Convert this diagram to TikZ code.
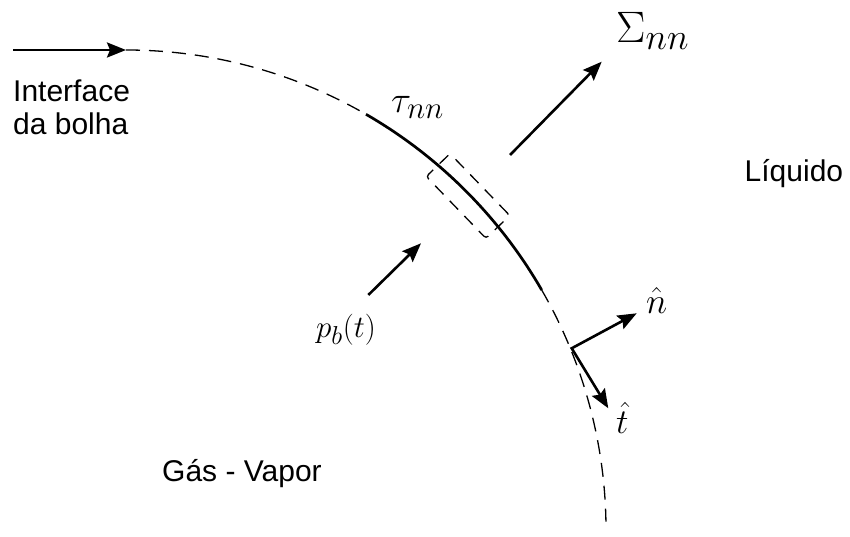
\documentclass[tikz,border=0pt]{standalone}
\usepackage{graphicx}
\usepackage{fontspec}
\newfontfamily\arialf{Liberation Sans}
\usetikzlibrary{arrows.meta}
\begin{document}
\begin{tikzpicture}[x=1pt,y=1pt,
  txt/.style={inner sep=0pt, anchor=base west, font=\arialf\fontsize{30}{33}\selectfont},
  mth/.style={inner sep=0pt, anchor=base west, font=\fontsize{24.88}{30}\selectfont},
  arr/.style={line width=2.6pt, -{Stealth[length=19pt,width=15pt,inset=3pt]}},
  dsh/.style={line width=1.3pt, dash pattern=on 14pt off 9pt},
  solidarc/.style={line width=2.7pt}]
\useasboundingbox (0,0) rectangle (850,536);
% interface arc (centre (126,6), radius 480)
\coordinate (s0) at (126,486);
\coordinate (s1) at (366,421.7);
\coordinate (s2) at (541.7,246);
\draw[dsh] (s0) arc[start angle=90, end angle=60, radius=480];
\draw[solidarc] (s1) arc[start angle=60, end angle=30, radius=480];
\draw[dsh] (s2) arc[start angle=30, end angle=1, radius=480];
% control element box
\node[draw, line width=1.3pt, dash pattern=on 12pt off 9pt, rounded corners=3pt,
      minimum width=86pt, minimum height=33pt,
      rotate=-46, inner sep=0pt] (box) at (468,340) {};
% arrows
\coordinate (ia) at (13,486);
\draw[arr] (ia) -- (s0);
\coordinate (sa) at (510,381);
\coordinate (sb) at (601.7,474.3);
\draw[arr] (sa) -- (sb);
\coordinate (pa) at (368.3,241);
\coordinate (pbt) at (421,292.7);
\draw[arr] (pa) -- (pbt);
\coordinate (c) at (571.7,187.7);
\coordinate (ntip) at (636.7,222.7);
\coordinate (ttip) at (608.3,127.7);
\draw[line width=2.6pt, line join=miter, {Stealth[length=19pt,width=15pt,inset=3pt]}-{Stealth[length=19pt,width=15pt,inset=3pt]}] (ntip) -- (c) -- (ttip);
% labels
\node[txt] (if1) at (13,434) {Interface};
\node[txt] (if2) at (13,401) {da bolha};
\node[txt] (liq) at (744.5,354.3) {Líquido};
\node[txt] (gas) at (162,54.3) {Gás - Vapor};
\node[mth] (tau) at (391,423) {\scalebox{1.5}{$\tau_{nn}$}};
\node[mth] (sig) at (616,493) {\scalebox{1.77}{$\Sigma_{nn}$}};
\node[mth] (pb) at (316,199) {\scalebox{1.25}{$p_b(t)$}};
\node[mth] (nh) at (646,223) {\scalebox{1.45}{$\hat{n}$}};
\node[mth] (th) at (616,103) {\scalebox{1.4}{$\hat{t}$}};
\end{tikzpicture}
\end{document}
